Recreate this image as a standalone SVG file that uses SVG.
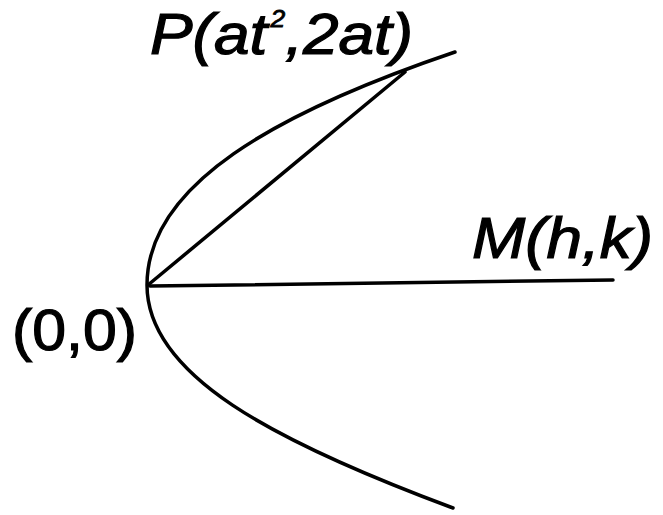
<svg xmlns="http://www.w3.org/2000/svg" width="663" height="515" viewBox="0 0 663 515">
<style>
.ln{fill:none;stroke:#000;stroke-width:3.5;stroke-linecap:round;stroke-linejoin:round}
.lb{font-family:"Liberation Sans",Arial,sans-serif;font-size:58px;fill:#000;stroke:#000;stroke-width:1.2}
.it{font-style:italic}
.sup{font-size:24px;stroke-width:0.8}
</style>
<rect width="663" height="515" fill="#fff"/>
<g id="connectors">
<path id="parabola" class="ln" d="M455,52 C275,113 147,185 147,285 C147,375 273,441 453,508"/>
<path id="chord" class="ln" d="M148,285 L405,72"/>
<path id="median" class="ln" d="M150,286 L613,280"/>
</g>
<g id="label-P">
<text class="lb it" x="150" y="54" textLength="263" lengthAdjust="spacingAndGlyphs">P(at<tspan class="sup" dx="3" dy="-27">2</tspan><tspan dy="27">,2at)</tspan></text>
</g>
<g id="label-M">
<text class="lb it" x="472" y="258" textLength="181" lengthAdjust="spacingAndGlyphs">M(h,k)</text>
</g>
<g id="label-O">
<text class="lb" x="12" y="350" textLength="125" lengthAdjust="spacingAndGlyphs">(0,0)</text>
</g>
</svg>
